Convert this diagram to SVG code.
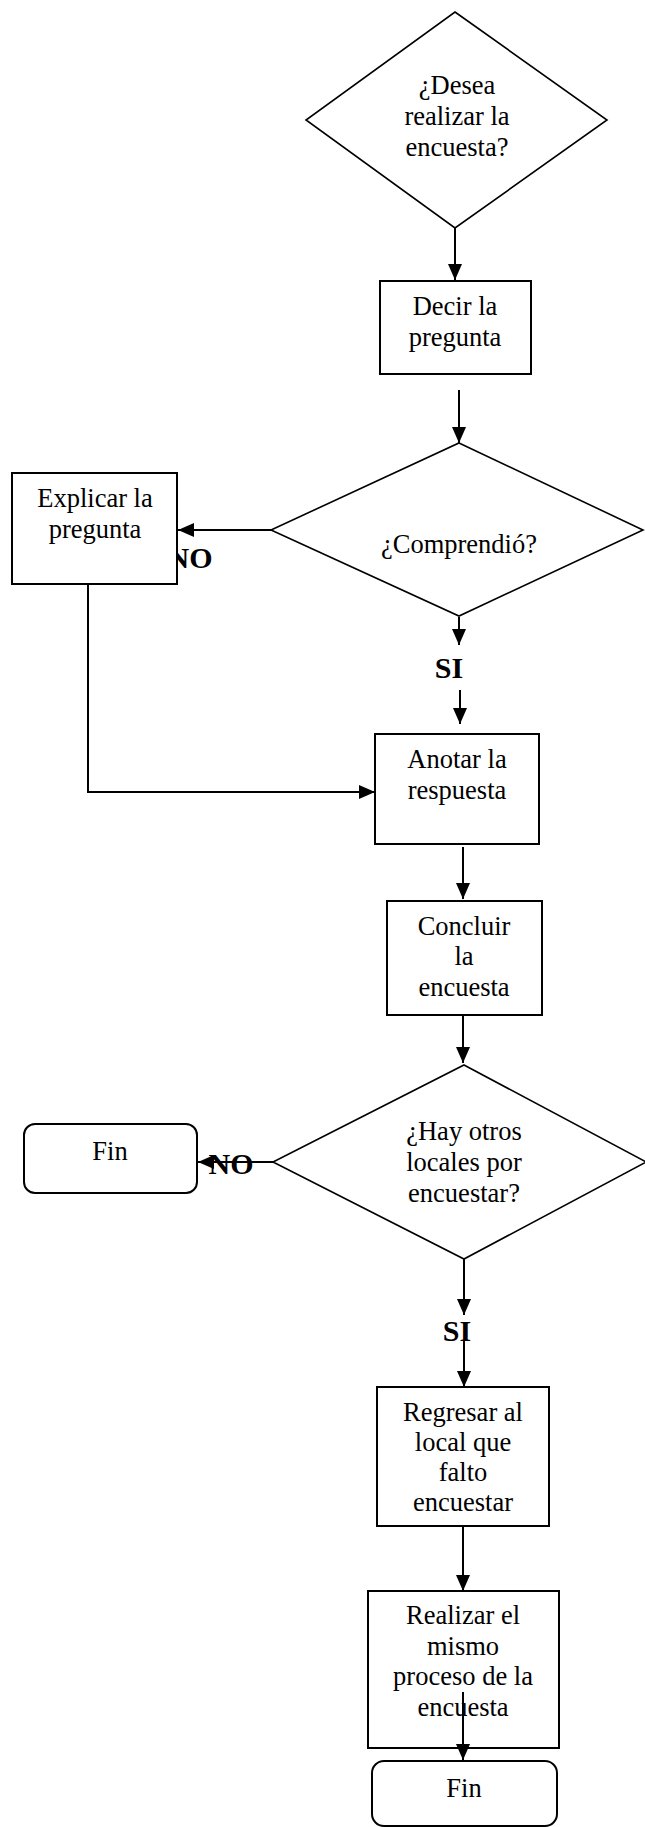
<svg xmlns="http://www.w3.org/2000/svg" width="645" height="1827" viewBox="0 0 645 1827">
<style>
  .shape { fill: #ffffff; stroke: #000000; stroke-width: 2; }
  .dia { fill: #ffffff; stroke: #000000; stroke-width: 1.6; }
  .txt { font-family: "Liberation Serif", "Times New Roman", serif; font-size: 26.5px; fill: #000000; text-anchor: middle; }
  .lbl { font-family: "Liberation Serif", "Times New Roman", serif; font-size: 30px; font-weight: bold; fill: #000000; text-anchor: middle; }
  .conn { fill: none; stroke: #000000; stroke-width: 2; }
</style>
<defs>
  <marker id="arrow" markerUnits="userSpaceOnUse" markerWidth="17" markerHeight="15" refX="16" refY="7" orient="auto">
    <path d="M0,0 L16,7 L0,14 Z" fill="#000000"/>
  </marker>
</defs>
<rect x="0" y="0" width="645" height="1827" fill="#ffffff"/>

<g id="connectors">
  <path class="conn" d="M455,228 L455,280" marker-end="url(#arrow)"/>
  <path class="conn" d="M459,390 L459,443" marker-end="url(#arrow)"/>
  <path class="conn" d="M271,530 L178,530" marker-end="url(#arrow)"/>
  <path class="conn" d="M459,617 L459,645" marker-end="url(#arrow)"/>
  <path class="conn" d="M460,690 L460,724" marker-end="url(#arrow)"/>
  <path class="conn" d="M88,584 L88,792 L375,792" marker-end="url(#arrow)"/>
  <path class="conn" d="M463,847 L463,899" marker-end="url(#arrow)"/>
  <path class="conn" d="M463,1015 L463,1063" marker-end="url(#arrow)"/>
  <path class="conn" d="M273,1162 L198,1162" marker-end="url(#arrow)"/>
  <path class="conn" d="M464,1259 L464,1315" marker-end="url(#arrow)"/>
  <path class="conn" d="M464,1340 L464,1387" marker-end="url(#arrow)"/>
  <path class="conn" d="M463,1526 L463,1591" marker-end="url(#arrow)"/>
</g>

<g id="labels">
  <text class="lbl" x="190" y="568">NO</text>
  <text class="lbl" x="449" y="678">SI</text>
  <text class="lbl" x="231" y="1174">NO</text>
  <text class="lbl" x="457" y="1341">SI</text>
</g>

<g id="node-desea">
  <polygon class="dia" points="455,12 607,120 455,228 306,120"/>
  <text class="txt" x="457" y="94">¿Desea</text>
  <text class="txt" x="457" y="125">realizar la</text>
  <text class="txt" x="457" y="156">encuesta?</text>
</g>

<g id="node-decir">
  <rect class="shape" x="380" y="281" width="151" height="93"/>
  <text class="txt" x="455" y="315">Decir la</text>
  <text class="txt" x="455" y="346">pregunta</text>
</g>

<g id="node-comprendio">
  <polygon class="dia" points="459,443 643,530 459,616 271,530"/>
  <text class="txt" x="459" y="553">¿Comprendió?</text>
</g>

<g id="node-explicar">
  <rect class="shape" x="12" y="473" width="165" height="111"/>
  <text class="txt" x="95" y="507">Explicar la</text>
  <text class="txt" x="95" y="538">pregunta</text>
</g>

<g id="node-anotar">
  <rect class="shape" x="375" y="734" width="164" height="110"/>
  <text class="txt" x="457" y="768">Anotar la</text>
  <text class="txt" x="457" y="799">respuesta</text>
</g>

<g id="node-concluir">
  <rect class="shape" x="387" y="901" width="155" height="114"/>
  <text class="txt" x="464" y="935">Concluir</text>
  <text class="txt" x="464" y="965">la</text>
  <text class="txt" x="464" y="996">encuesta</text>
</g>

<g id="node-hay-otros">
  <polygon class="dia" points="464,1065 646,1162 464,1259 273,1162"/>
  <text class="txt" x="464" y="1140">¿Hay otros</text>
  <text class="txt" x="464" y="1171">locales por</text>
  <text class="txt" x="464" y="1202">encuestar?</text>
</g>

<g id="node-fin-1">
  <rect class="shape" x="24" y="1124" width="173" height="69" rx="11" ry="11"/>
  <text class="txt" x="110" y="1160">Fin</text>
</g>

<g id="node-regresar">
  <rect class="shape" x="377" y="1387" width="172" height="139"/>
  <text class="txt" x="463" y="1421">Regresar al</text>
  <text class="txt" x="463" y="1451">local que</text>
  <text class="txt" x="463" y="1481">falto</text>
  <text class="txt" x="463" y="1511">encuestar</text>
</g>

<g id="node-realizar">
  <rect class="shape" x="368" y="1591" width="191" height="157"/>
  <text class="txt" x="463" y="1624">Realizar el</text>
  <text class="txt" x="463" y="1655">mismo</text>
  <text class="txt" x="463" y="1685">proceso de la</text>
  <text class="txt" x="463" y="1716">encuesta</text>
</g>

<g id="connector-overlay">
  <path class="conn" d="M463,1692 L463,1760" marker-end="url(#arrow)"/>
</g>

<g id="node-fin-2">
  <rect class="shape" x="372" y="1761" width="185" height="65" rx="12" ry="12"/>
  <text class="txt" x="464" y="1797">Fin</text>
</g>
</svg>
